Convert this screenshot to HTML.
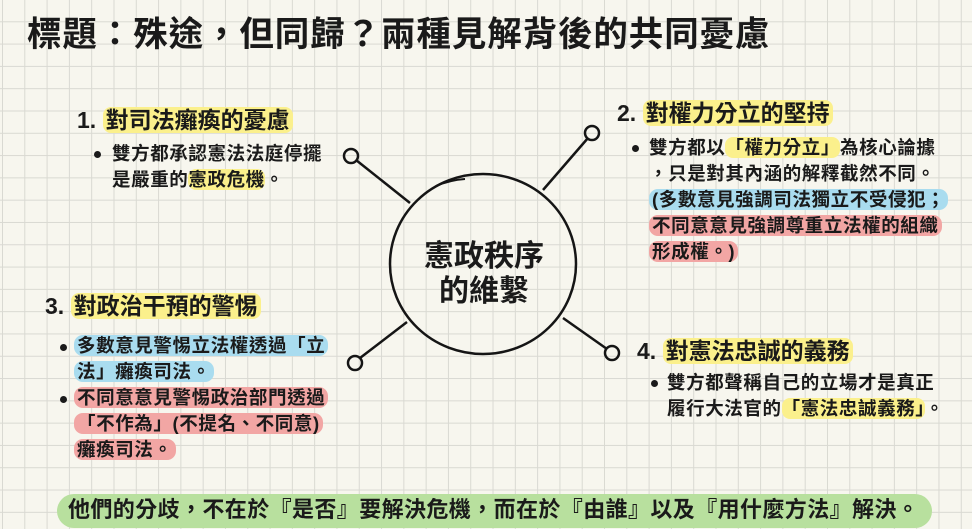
<!DOCTYPE html>
<html><head><meta charset="utf-8"><style>
*{margin:0;padding:0;box-sizing:border-box}
body{width:972px;height:529px;overflow:hidden;position:relative;
background-color:#f7f6ee;
background-image:linear-gradient(to right,#d9d9d2 1px,transparent 1px),linear-gradient(to bottom,#d9d9d2 1px,transparent 1px);
background-size:22.3px 22.3px;background-position:2px -1px;
font-family:"Liberation Sans","Noto Sans CJK TC",sans-serif;color:#1a1a1a}
.a{position:absolute;white-space:nowrap}
.t{font-size:34.5px;font-weight:bold;left:27px;top:6px;letter-spacing:0.9px}
.h{font-size:23px;font-weight:bold}
.b{font-size:18.5px;font-weight:bold;letter-spacing:0.6px;line-height:26px}
.y{background:#fbf08c;border-radius:8px;padding:0 3px}
.bl{background:#a9dcef;border-radius:9px;padding:0 3px}
.r{background:#f2a6a4;border-radius:9px;padding:0 3px}
.dot{position:absolute;width:7px;height:7px;border-radius:50%;background:#1a1a1a}
</style></head><body>
<div class="a t">標題：殊途，但同歸？兩種見解背後的共同憂慮</div>

<svg class="a" style="left:0;top:0" width="972" height="529">
<g fill="none" stroke="#151515" stroke-width="2.5">
<ellipse cx="483" cy="264" rx="93" ry="90"/>
<path d="M436 186 Q450 180 465 179" stroke-width="2"/>
<line x1="410" y1="203" x2="356" y2="160"/>
<line x1="543" y1="190" x2="588" y2="138"/>
<line x1="407" y1="322" x2="360" y2="358"/>
<line x1="563" y1="318" x2="607" y2="349"/>
<circle cx="351" cy="156" r="7"/>
<circle cx="592" cy="133" r="7"/>
<circle cx="355" cy="363" r="7"/>
<circle cx="612" cy="353" r="7"/>
</g>
<text x="484" y="266" font-size="30" font-weight="bold" text-anchor="middle" font-family="Liberation Sans,Noto Sans CJK TC,sans-serif" fill="#1a1a1a">憲政秩序</text>
<text x="484" y="301" font-size="30" font-weight="bold" text-anchor="middle" font-family="Liberation Sans,Noto Sans CJK TC,sans-serif" fill="#1a1a1a">的維繫</text>
</svg>

<div class="a h" style="left:77px;top:101px">1. <span class="y">對司法癱瘓的憂慮</span></div>
<div class="dot" style="left:94px;top:151px"></div>
<div class="a b" style="left:112px;top:141px">雙方都承認憲法法庭停擺<br>是嚴重的<span class="y" style="padding:0">憲政危機</span>。</div>

<div class="a h" style="left:617px;top:94px">2. <span class="y">對權力分立的堅持</span></div>
<div class="dot" style="left:632px;top:145px"></div>
<div class="a b" style="left:649px;top:135px">雙方都以<span class="y" style="padding:0">「權力分立」</span>為核心論據<br>，只是對其內涵的解釋截然不同。<br><span class="bl">(多數意見強調司法獨立不受侵犯；</span><br><span class="r">不同意意見強調尊重立法權的組織</span><br><span class="r">形成權。)</span></div>

<div class="a h" style="left:45px;top:287px">3. <span class="y">對政治干預的警惕</span></div>
<div class="dot" style="left:60px;top:344px"></div>
<div class="dot" style="left:60px;top:396px"></div>
<div class="a b" style="left:74px;top:333px"><span class="bl">多數意見警惕立法權透過「立</span><br><span class="bl">法」癱瘓司法。</span><br><span class="r">不同意意見警惕政治部門透過</span><br><span class="r">「不作為」(不提名、不同意)</span><br><span class="r">癱瘓司法。</span></div>

<div class="a h" style="left:637px;top:332px">4. <span class="y">對憲法忠誠的義務</span></div>
<div class="dot" style="left:651px;top:380px"></div>
<div class="a b" style="left:667px;top:370px">雙方都聲稱自己的立場才是真正<br>履行大法官的<span class="y" style="padding:0">「憲法忠誠義務」</span>。</div>

<div class="a" style="left:57px;top:494px;width:875px;height:34px;background:#b8e09e;border-radius:17px"></div>
<div class="a" style="left:68px;top:495px;font-size:22px;font-weight:bold;letter-spacing:0.4px;line-height:30px">他們的分歧，不在於『是否』要解決危機，而在於『由誰』以及『用什麼方法』解決。</div>
</body></html>
